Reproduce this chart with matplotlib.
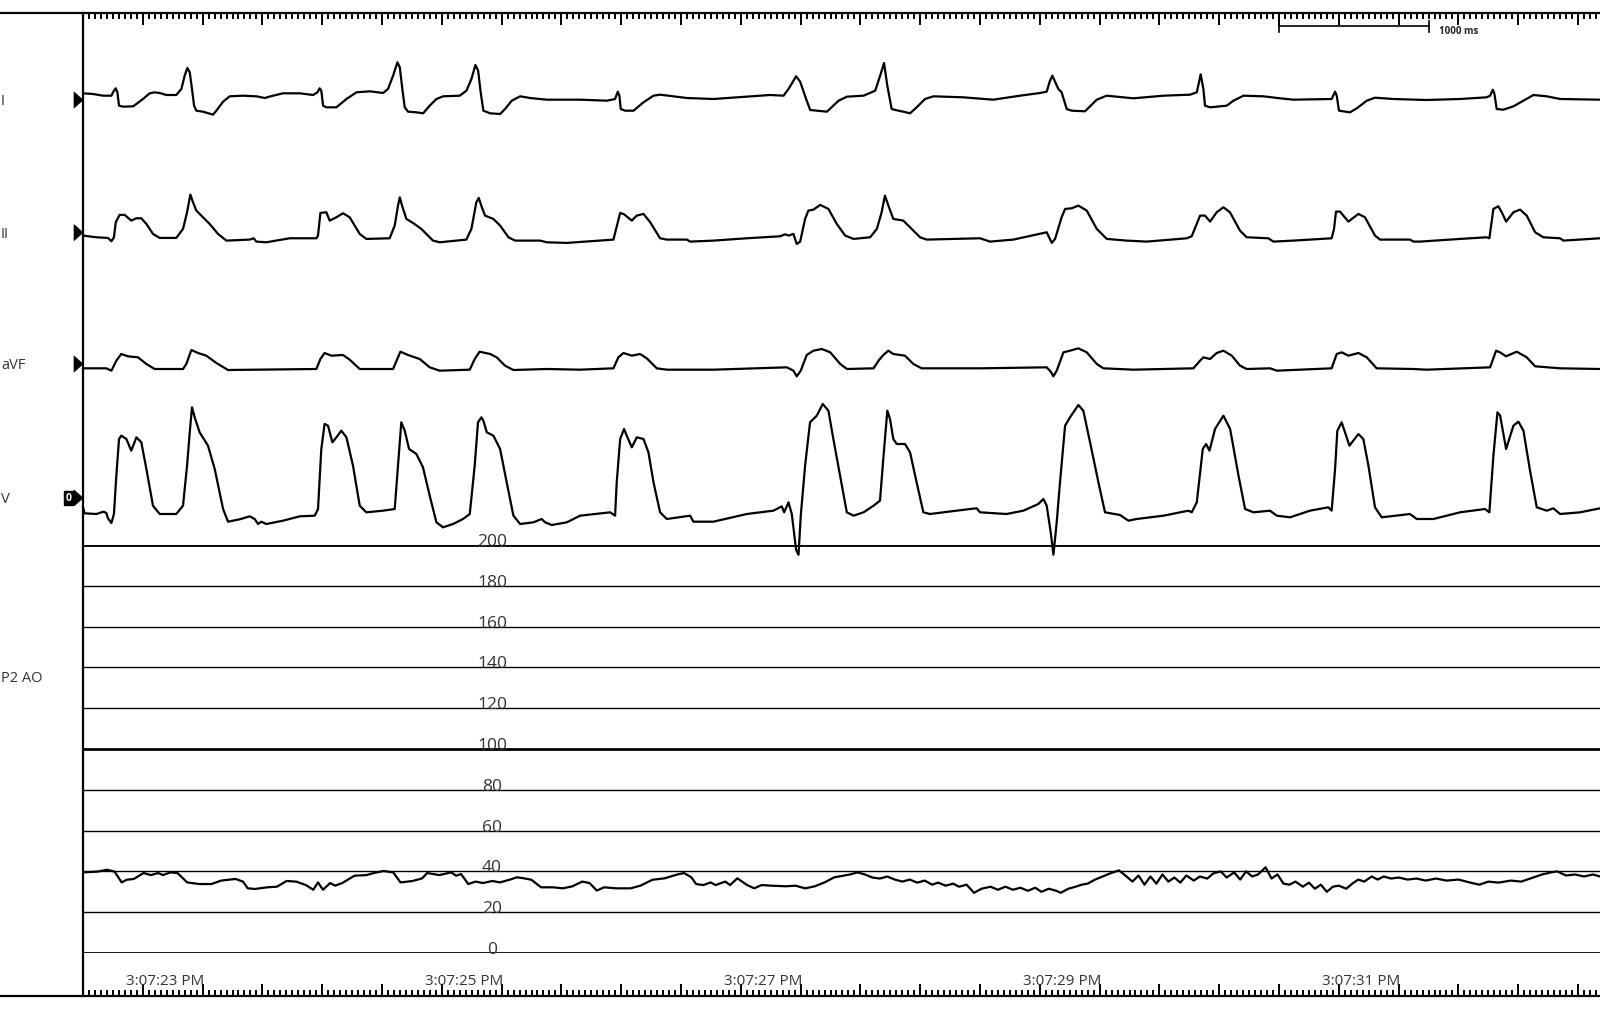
import matplotlib.pyplot as plt
import numpy as np
from matplotlib.patches import Polygon, Rectangle
from matplotlib.ticker import MultipleLocator
from matplotlib.transforms import blended_transform_factory

plt.rcParams['font.family'] = ['Open Sans', 'DejaVu Sans']

# ---- data (time in s from left edge, ECG in mV, pressure in mmHg) ----
t_end = 10.147

lead_I = [(0.000,0.167),(0.067,0.150),(0.134,0.108),(0.190,0.108),(0.207,0.233),(0.219,0.292),(0.230,0.192),(0.241,-0.142),(0.268,-0.167),(0.335,-0.158),(0.357,-0.100),(0.401,0.025),(0.446,0.167),(0.479,0.192),(0.513,0.175),(0.558,0.125),(0.624,0.125),(0.658,0.275),(0.680,0.608),(0.698,0.800),(0.714,0.692),(0.729,0.275),(0.743,-0.142),(0.758,-0.267),(0.803,-0.292),(0.870,-0.367),(0.892,-0.267),(0.937,-0.042),(0.981,0.092),(1.070,0.108),(1.160,0.092),(1.215,0.050),(1.271,0.108),(1.338,0.167),(1.450,0.167),(1.539,0.125),(1.568,0.192),(1.583,0.292),(1.594,0.233),(1.606,-0.142),(1.628,-0.183),(1.695,-0.183),(1.762,0.025),(1.829,0.192),(1.918,0.217),(2.007,0.175),(2.040,0.275),(2.074,0.608),(2.103,0.942),(2.119,0.817),(2.136,0.275),(2.152,-0.183),(2.174,-0.292),(2.230,-0.308),(2.275,-0.333),(2.319,-0.142),(2.364,0.025),(2.409,0.092),(2.520,0.108),(2.565,0.233),(2.598,0.525),(2.625,0.875),(2.643,0.733),(2.660,0.192),(2.678,-0.267),(2.723,-0.333),(2.790,-0.350),(2.823,-0.225),(2.868,-0.017),(2.924,0.092),(2.990,0.050),(3.102,0.008),(3.325,0.008),(3.504,-0.017),(3.559,0.025),(3.577,0.208),(3.588,0.108),(3.597,-0.225),(3.626,-0.267),(3.682,-0.267),(3.749,-0.058),(3.816,0.108),(3.861,0.133),(4.039,0.050),(4.217,0.025),(4.440,0.083),(4.596,0.125),(4.686,0.108),(4.719,0.275),(4.770,0.592),(4.797,0.458),(4.837,0.025),(4.864,-0.250),(4.976,-0.292),(5.054,-0.017),(5.110,0.083),(5.221,0.108),(5.299,0.233),(5.332,0.608),(5.358,0.925),(5.380,0.358),(5.409,-0.225),(5.454,-0.267),(5.487,-0.292),(5.532,-0.333),(5.576,-0.183),(5.632,0.025),(5.688,0.092),(5.889,0.067),(6.089,0.008),(6.268,0.108),(6.401,0.175),(6.446,0.208),(6.468,0.483),(6.484,0.608),(6.502,0.458),(6.524,0.275),(6.546,0.192),(6.580,-0.225),(6.613,-0.267),(6.702,-0.283),(6.781,0.008),(6.847,0.108),(7.026,0.042),(7.227,0.108),(7.405,0.133),(7.450,0.192),(7.476,0.642),(7.494,0.275),(7.505,-0.142),(7.539,-0.183),(7.650,-0.142),(7.695,-0.017),(7.762,0.108),(7.896,0.092),(8.007,0.042),(8.096,0.008),(8.352,0.025),(8.375,0.208),(8.386,0.108),(8.401,-0.267),(8.475,-0.308),(8.520,-0.208),(8.587,-0.017),(8.642,0.058),(8.765,0.025),(8.988,0.000),(9.211,0.025),(9.389,0.067),(9.412,0.108),(9.430,0.258),(9.441,0.150),(9.456,-0.225),(9.501,-0.242),(9.568,-0.158),(9.635,-0.017),(9.702,0.125),(9.791,0.092),(9.880,0.025),(10.147,0.008)]

lead_II = [(0.000,-0.075),(0.089,-0.117),(0.167,-0.133),(0.190,-0.217),(0.207,-0.117),(0.219,0.258),(0.245,0.442),(0.279,0.442),(0.323,0.300),(0.357,0.358),(0.390,0.358),(0.424,0.217),(0.468,-0.033),(0.513,-0.133),(0.624,-0.133),(0.669,0.092),(0.696,0.508),(0.718,0.950),(0.736,0.758),(0.758,0.550),(0.814,0.342),(0.847,0.217),(0.903,-0.033),(0.959,-0.200),(1.115,-0.175),(1.142,-0.142),(1.159,-0.225),(1.226,-0.242),(1.382,-0.142),(1.561,-0.142),(1.572,-0.075),(1.588,0.492),(1.628,0.508),(1.650,0.300),(1.695,0.383),(1.739,0.483),(1.784,0.383),(1.851,-0.033),(1.895,-0.158),(2.051,-0.142),(2.085,0.175),(2.107,0.675),(2.119,0.883),(2.134,0.675),(2.163,0.342),(2.207,0.242),(2.263,0.092),(2.341,-0.200),(2.386,-0.242),(2.564,-0.175),(2.598,0.092),(2.631,0.758),(2.647,0.867),(2.664,0.675),(2.689,0.425),(2.745,0.342),(2.790,0.175),(2.846,-0.117),(2.890,-0.200),(3.057,-0.200),(3.102,-0.242),(3.236,-0.258),(3.548,-0.175),(3.566,0.092),(3.593,0.492),(3.619,0.458),(3.671,0.300),(3.704,0.425),(3.749,0.467),(3.794,0.258),(3.860,-0.142),(3.905,-0.175),(4.039,-0.175),(4.061,-0.225),(4.217,-0.200),(4.440,-0.142),(4.663,-0.092),(4.696,-0.042),(4.719,-0.075),(4.752,-0.033),(4.774,-0.283),(4.797,-0.225),(4.830,0.342),(4.852,0.550),(4.886,0.575),(4.931,0.692),(4.986,0.592),(5.042,0.217),(5.098,-0.075),(5.154,-0.158),(5.265,-0.117),(5.310,0.092),(5.342,0.508),(5.364,0.925),(5.387,0.675),(5.420,0.342),(5.487,0.300),(5.532,0.133),(5.599,-0.117),(5.643,-0.175),(6.000,-0.142),(6.067,-0.225),(6.223,-0.175),(6.446,0.008),(6.480,-0.258),(6.502,-0.158),(6.546,0.383),(6.569,0.592),(6.613,0.608),(6.658,0.675),(6.714,0.550),(6.781,0.092),(6.848,-0.158),(6.981,-0.200),(7.115,-0.225),(7.383,-0.142),(7.416,-0.092),(7.472,0.425),(7.505,0.425),(7.539,0.275),(7.583,0.508),(7.628,0.633),(7.672,0.508),(7.739,0.050),(7.784,-0.117),(7.929,-0.142),(7.962,-0.225),(8.096,-0.200),(8.352,-0.142),(8.368,0.092),(8.381,0.525),(8.408,0.525),(8.464,0.275),(8.531,0.467),(8.575,0.383),(8.642,-0.075),(8.676,-0.175),(8.876,-0.175),(8.899,-0.225),(8.943,-0.225),(9.211,-0.158),(9.389,-0.117),(9.407,-0.142),(9.434,0.592),(9.467,0.658),(9.490,0.508),(9.519,0.275),(9.568,0.508),(9.612,0.575),(9.657,0.425),(9.713,0.008),(9.768,-0.117),(9.880,-0.142),(9.902,-0.200),(10.147,-0.142)]

lead_aVF = [(0.000,-0.108),(0.156,-0.108),(0.190,-0.167),(0.223,0.083),(0.256,0.250),(0.301,0.192),(0.368,0.167),(0.424,0.000),(0.479,-0.125),(0.669,-0.125),(0.691,0.000),(0.725,0.350),(0.769,0.275),(0.825,0.208),(0.892,0.025),(0.970,-0.150),(1.159,-0.142),(1.561,-0.125),(1.588,0.125),(1.616,0.275),(1.661,0.208),(1.739,0.225),(1.784,0.108),(1.851,-0.125),(2.074,-0.125),(2.107,0.167),(2.123,0.308),(2.174,0.225),(2.252,0.125),(2.319,-0.083),(2.386,-0.167),(2.587,-0.142),(2.620,0.125),(2.653,0.308),(2.723,0.250),(2.767,0.167),(2.823,-0.042),(2.879,-0.150),(3.102,-0.125),(3.325,-0.142),(3.548,-0.108),(3.581,0.167),(3.615,0.275),(3.671,0.208),(3.726,0.250),(3.771,0.142),(3.838,-0.108),(3.905,-0.142),(4.217,-0.142),(4.708,-0.083),(4.752,-0.167),(4.774,-0.308),(4.801,-0.167),(4.841,0.225),(4.886,0.333),(4.942,0.375),(4.998,0.292),(5.065,0.000),(5.110,-0.125),(5.288,-0.108),(5.321,0.083),(5.353,0.225),(5.387,0.333),(5.420,0.250),(5.498,0.208),(5.554,0.000),(5.610,-0.108),(6.000,-0.108),(6.446,-0.083),(6.473,-0.192),(6.491,-0.308),(6.513,-0.167),(6.558,0.292),(6.602,0.333),(6.658,0.392),(6.714,0.292),(6.781,0.000),(6.825,-0.108),(7.026,-0.142),(7.427,-0.108),(7.472,0.083),(7.494,0.167),(7.539,0.125),(7.583,0.275),(7.628,0.333),(7.684,0.208),(7.739,-0.042),(7.784,-0.125),(7.940,-0.108),(7.985,-0.167),(8.352,-0.108),(8.386,0.250),(8.419,0.292),(8.464,0.208),(8.531,0.275),(8.587,0.167),(8.653,-0.108),(8.899,-0.125),(8.988,-0.142),(9.412,-0.083),(9.452,0.333),(9.478,0.292),(9.519,0.192),(9.590,0.308),(9.657,0.167),(9.713,-0.058),(9.880,-0.108),(10.147,-0.125)]

lead_V = [(0.000,-0.233),(0.011,-0.383),(0.089,-0.400),(0.138,-0.342),(0.156,-0.375),(0.167,-0.508),(0.190,-0.625),(0.207,-0.400),(0.223,0.558),(0.241,1.475),(0.256,1.558),(0.290,1.475),(0.323,1.183),(0.357,1.517),(0.390,1.392),(0.424,0.725),(0.468,-0.192),(0.513,-0.400),(0.624,-0.400),(0.669,-0.192),(0.696,0.808),(0.714,1.642),(0.729,2.267),(0.747,2.017),(0.780,1.642),(0.836,1.308),(0.881,0.725),(0.937,-0.275),(0.970,-0.592),(1.048,-0.533),(1.115,-0.458),(1.148,-0.525),(1.171,-0.650),(1.193,-0.592),(1.226,-0.650),(1.338,-0.567),(1.450,-0.458),(1.550,-0.442),(1.572,-0.275),(1.594,1.225),(1.616,1.850),(1.639,1.808),(1.668,1.392),(1.695,1.517),(1.728,1.683),(1.762,1.517),(1.806,0.808),(1.851,-0.192),(1.895,-0.358),(2.007,-0.317),(2.085,-0.275),(2.107,0.808),(2.129,1.892),(2.152,1.683),(2.181,1.225),(2.230,1.100),(2.274,0.767),(2.319,0.058),(2.364,-0.608),(2.408,-0.733),(2.475,-0.650),(2.542,-0.525),(2.587,-0.400),(2.620,0.808),(2.642,1.892),(2.665,2.017),(2.678,1.933),(2.701,1.642),(2.745,1.558),(2.790,1.225),(2.834,0.392),(2.879,-0.442),(2.924,-0.650),(3.013,-0.608),(3.068,-0.525),(3.091,-0.608),(3.135,-0.675),(3.236,-0.608),(3.325,-0.442),(3.526,-0.358),(3.559,-0.442),(3.570,0.392),(3.593,1.475),(3.619,1.725),(3.637,1.558),(3.671,1.267),(3.704,1.517),(3.749,1.475),(3.782,1.142),(3.816,0.392),(3.860,-0.358),(3.905,-0.525),(4.061,-0.442),(4.083,-0.592),(4.217,-0.592),(4.440,-0.400),(4.618,-0.317),(4.674,-0.208),(4.690,-0.358),(4.719,-0.108),(4.741,-0.400),(4.770,-1.300),(4.786,-1.420),(4.801,-0.442),(4.830,0.808),(4.863,1.892),(4.908,2.058),(4.948,2.350),(4.986,2.183),(5.019,1.475),(5.064,0.558),(5.109,-0.358),(5.154,-0.442),(5.221,-0.358),(5.288,-0.192),(5.331,-0.067),(5.353,0.975),(5.380,2.183),(5.398,1.975),(5.420,1.475),(5.443,1.350),(5.498,1.350),(5.532,1.142),(5.576,0.392),(5.621,-0.358),(5.665,-0.400),(5.933,-0.275),(5.978,-0.258),(6.000,-0.358),(6.178,-0.400),(6.290,-0.317),(6.390,-0.150),(6.424,-0.025),(6.446,-0.192),(6.473,-0.858),(6.491,-1.420),(6.513,-0.608),(6.535,0.392),(6.569,1.808),(6.602,2.017),(6.658,2.325),(6.691,2.183),(6.736,1.392),(6.792,0.392),(6.836,-0.358),(6.937,-0.425),(6.992,-0.567),(7.048,-0.525),(7.227,-0.442),(7.338,-0.358),(7.394,-0.317),(7.416,-0.358),(7.450,-0.108),(7.490,1.225),(7.512,1.350),(7.535,1.183),(7.572,1.725),(7.628,2.058),(7.673,1.725),(7.729,0.558),(7.773,-0.275),(7.829,-0.358),(7.940,-0.317),(7.985,-0.442),(8.074,-0.483),(8.207,-0.317),(8.330,-0.233),(8.352,-0.317),(8.375,0.725),(8.390,1.683),(8.419,1.892),(8.471,1.308),(8.531,1.600),(8.564,1.475),(8.598,0.808),(8.642,-0.233),(8.687,-0.483),(8.876,-0.400),(8.921,-0.525),(9.033,-0.525),(9.211,-0.358),(9.378,-0.275),(9.407,-0.358),(9.434,1.058),(9.461,2.142),(9.479,2.058),(9.519,1.225),(9.568,1.808),(9.601,1.908),(9.635,1.683),(9.679,0.683),(9.724,-0.233),(9.791,-0.317),(9.835,-0.258),(9.880,-0.400),(10.014,-0.358),(10.147,-0.258)]

p2_ao = [(0.000,39.5),(0.097,39.9),(0.162,40.8),(0.211,39.9),(0.259,34.6),(0.292,35.9),(0.340,36.3),(0.405,39.2),(0.454,38.2),(0.503,39.2),(0.535,38.2),(0.584,39.5),(0.632,39.2),(0.697,34.6),(0.778,33.8),(0.859,33.8),(0.924,35.5),(0.973,35.9),(1.021,36.3),(1.070,35.0),(1.102,31.7),(1.151,31.4),(1.232,32.2),(1.297,32.5),(1.362,35.3),(1.426,35.0),(1.491,33.3),(1.540,31.0),(1.572,34.6),(1.605,31.0),(1.653,34.3),(1.686,33.0),(1.734,34.3),(1.816,37.9),(1.897,38.2),(1.945,39.2),(2.010,40.2),(2.075,39.5),(2.124,34.6),(2.205,35.3),(2.269,36.6),(2.302,39.2),(2.383,38.2),(2.464,39.5),(2.496,37.9),(2.529,38.7),(2.577,33.8),(2.626,35.0),(2.675,34.3),(2.739,35.3),(2.788,34.6),(2.853,35.9),(2.902,37.1),(2.950,36.6),(2.999,35.9),(3.064,32.2),(3.145,32.2),(3.210,31.7),(3.274,32.7),(3.339,35.0),(3.388,34.3),(3.437,30.6),(3.485,32.2),(3.566,31.7),(3.663,31.7),(3.728,33.0),(3.809,35.9),(3.890,36.6),(3.971,38.4),(4.020,39.2),(4.069,37.1),(4.101,33.8),(4.150,33.3),(4.198,34.6),(4.231,33.3),(4.296,35.0),(4.328,33.3),(4.377,36.6),(4.442,33.3),(4.490,31.7),(4.539,33.3),(4.604,33.0),(4.701,32.7),(4.766,33.0),(4.831,31.7),(4.895,32.7),(4.960,34.6),(5.025,37.1),(5.083,37.9),(5.13,38.5),(5.18,39.5),(5.23,38.5),(5.28,37.0),(5.33,36.5),(5.38,37.5),(5.43,36.0),(5.48,35.0),(5.53,36.0),(5.58,34.5),(5.63,35.5),(5.68,33.5),(5.72,34.5),(5.77,33.0),(5.82,34.0),(5.86,32.5),(5.91,33.5),(5.96,29.5),(6.01,31.5),(6.07,32.5),(6.12,31.0),(6.17,32.5),(6.22,31.0),(6.27,32.0),(6.32,30.5),(6.37,32.0),(6.41,30.0),(6.46,31.5),(6.51,30.5),(6.54,29.5),(6.59,31.5),(6.64,32.5),(6.68,33.5),(6.72,34.0),(6.77,36.0),(6.82,37.5),(6.87,39.0),(6.93,40.5),(6.98,37.5),(7.02,35.0),(7.06,38.0),(7.10,33.5),(7.14,37.5),(7.18,34.0),(7.22,38.5),(7.26,35.0),(7.30,37.0),(7.34,34.5),(7.38,38.0),(7.43,35.5),(7.47,37.5),(7.52,36.5),(7.56,39.0),(7.61,40.0),(7.65,37.0),(7.70,39.5),(7.74,36.0),(7.78,40.0),(7.82,37.5),(7.86,38.5),(7.91,42.0),(7.95,36.5),(7.99,38.5),(8.03,34.0),(8.07,33.5),(8.11,35.0),(8.16,32.5),(8.20,34.5),(8.24,31.5),(8.28,33.5),(8.32,30.0),(8.36,32.5),(8.40,33.0),(8.45,31.5),(8.49,34.0),(8.53,36.0),(8.57,35.0),(8.62,37.5),(8.66,36.0),(8.70,37.5),(8.75,36.5),(8.80,37.0),(8.86,36.0),(8.92,36.5),(8.98,35.5),(9.05,36.5),(9.12,35.5),(9.20,36.0),(9.28,34.5),(9.34,33.5),(9.40,35.0),(9.47,34.5),(9.55,35.5),(9.62,35.0),(9.70,37.0),(9.76,38.5),(9.82,39.5),(9.86,40.0),(9.92,38.0),(9.98,38.5),(10.04,37.5),(10.10,38.5),(10.147,37.5)]

lead_names = ["I", "II", "aVF", "V"]
lead_data = [lead_I, lead_II, lead_aVF, lead_V]
lead_offsets = [-2.175, -5.49, -8.775, -12.125]   # mV position of each baseline in the ECG strip
pressure_ticks = [0, 20, 40, 60, 80, 100, 120, 140, 160, 180, 200]
time_labels = ["3:07:23 PM", "3:07:25 PM", "3:07:27 PM", "3:07:29 PM", "3:07:31 PM"]
time_label_pos = [0.55, 2.55, 4.55, 6.55, 8.55]
scale_bar = (8.0, 9.0)

# ---- layout ----
W, H = 1600, 1012
fig = plt.figure(figsize=(W / 100, H / 100), dpi=100)

def px_axes(x0, y0, x1, y1):
    return fig.add_axes([x0 / W, 1 - y1 / H, (x1 - x0) / W, (y1 - y0) / H])

deco = fig.add_axes([0, 0, 1, 1], zorder=0)
deco.set_xlim(0, W)
deco.set_ylim(H, 0)
deco.axis("off")

frame = px_axes(83, 14, 1600, 997)
frame.set_zorder(1)
frame.patch.set_visible(False)
frame.set_xlim(0, t_end)
frame.set_ylim(0, 1)
for s in ["top", "bottom", "right"]:
    frame.spines[s].set_visible(False)
frame.spines["left"].set_linewidth(1.6)
frame.xaxis.set_major_locator(MultipleLocator(0.4))
frame.xaxis.set_minor_locator(MultipleLocator(0.04))
frame.tick_params(axis="x", which="both", direction="in", top=True, bottom=True,
                  labelbottom=False, width=1.4, color="black")
frame.tick_params(axis="x", which="major", length=8.3)
frame.tick_params(axis="x", which="minor", length=4.2)
frame.set_yticks([])

# border lines across the whole width
deco.plot([0, W], [14, 14], color="black", lw=1.6)
deco.plot([0, W], [997, 997], color="black", lw=1.6)

ecg = px_axes(83, 14, 1600, 546)
ecg.set_zorder(2)
ecg.patch.set_visible(False)
ecg.set_xlim(0, t_end)
ecg.set_ylim(-13.3, 0)
ecg.axis("off")

press = px_axes(83, 546, 1600, 954)
press.set_zorder(2)
press.patch.set_visible(False)
press.set_xlim(0, t_end)
press.set_ylim(0, 200)
press.axis("off")

# ---- ECG leads ----
for name, data, off in zip(lead_names, lead_data, lead_offsets):
    arr = np.array(data)
    ecg.plot(arr[:, 0], arr[:, 1] + off, color="black", lw=1.6, clip_on=False,
             zorder=3, solid_joinstyle="round")
    # baseline marker and lead label
    _, ypx = deco.transData.inverted().transform(ecg.transData.transform((0, off)))
    deco.add_patch(Polygon([(74, ypx - 8), (83, ypx), (74, ypx + 8)], closed=True,
                           facecolor="black", edgecolor="black", lw=0.5))
    deco.text(1, ypx + 1, name, ha="left", va="center", fontsize=10.5, color="#333333")
    if name == "V":
        deco.add_patch(Rectangle((64, ypx - 7), 9, 14, facecolor="black", edgecolor="black"))
        deco.text(68.5, ypx, "0", ha="center", va="center", fontsize=7.5,
                  color="white", fontweight="bold")

# ---- pressure grid and trace ----
for v in pressure_ticks:
    lw = 2.0 if v in (0, 100, 200) else 1.0
    press.axhline(v, color="black", lw=lw, zorder=2)
    press.text(2.736, v, str(v), ha="center", va="baseline", fontsize=12.5,
               color="#333333", zorder=4)
p = np.array(p2_ao)
press.plot(p[:, 0], p[:, 1], color="black", lw=1.6, zorder=3, solid_joinstyle="round")
deco.text(1, 679, "P2 AO", ha="left", va="center", fontsize=10.5, color="#333333")

# ---- time labels and scale bar ----
tr = blended_transform_factory(frame.transData, deco.transData)
for lab, pos in zip(time_labels, time_label_pos):
    frame.text(pos, 985, lab, transform=tr, ha="center", va="baseline",
               fontsize=11, color="#333333")

frame.plot(scale_bar, [27, 27], transform=tr, color="black", lw=1.2, clip_on=False)
frame.plot([scale_bar[0]] * 2, [15, 33], transform=tr, color="black", lw=1.2, clip_on=False)
frame.plot([scale_bar[1]] * 2, [22, 33], transform=tr, color="black", lw=1.2, clip_on=False)
frame.text(scale_bar[1] + 0.067, 31, "1000 ms", transform=tr, ha="left", va="center",
           fontsize=7, fontweight="bold", color="#222222")

fig.savefig("out.png", dpi=100)
